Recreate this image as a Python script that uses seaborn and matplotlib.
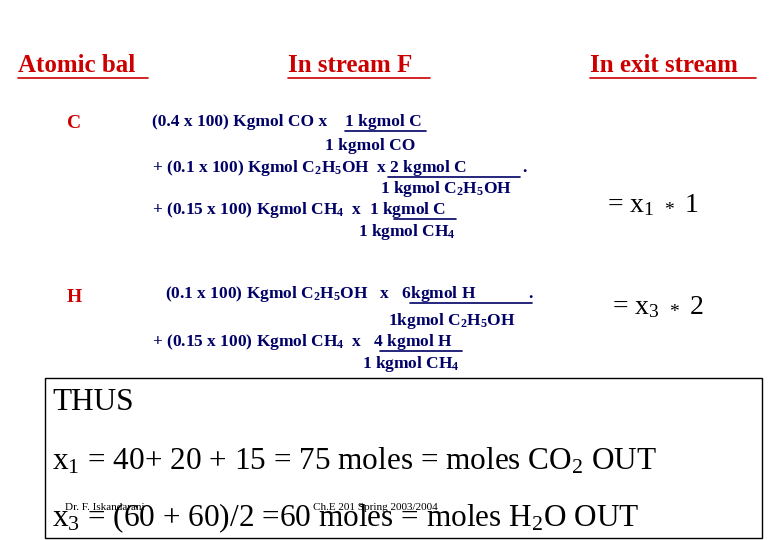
import matplotlib
matplotlib.use("Agg")
import matplotlib.pyplot as plt
import seaborn as sns
from matplotlib.patches import Rectangle

sns.set_theme(style="white")
plt.rcParams['font.family'] = ['Liberation Serif', 'DejaVu Serif']
plt.rcParams['mathtext.fontset'] = 'custom'
plt.rcParams['mathtext.rm'] = 'Liberation Serif'
plt.rcParams['mathtext.it'] = 'Liberation Serif'
plt.rcParams['mathtext.bf'] = 'Liberation Serif:bold'

RED = "#cc0000"
NAVY = "#000066"

headers = ["Atomic bal", "In stream F", "In exit stream"]
header_x = [18, 288, 590]
elements = ["C", "H"]
element_y = [123, 298]

c_lines = [
    ("(0.4 x 100) Kgmol CO x", 152, 122),
    ("1 kgmol C", 345, 122),
    ("1 kgmol CO", 325, 146),
    ("+ (0.1 x 100) Kgmol C$_\\mathbf{2}$H$_\\mathbf{5}$OH  x 2 kgmol C", 152, 168),
    (".", 522, 168),
    ("1 kgmol C$_\\mathbf{2}$H$_\\mathbf{5}$OH", 380, 189),
    ("+ (0.15 x 100) Kgmol CH$_\\mathbf{4}$  x  1 kgmol C", 152, 210),
    ("1 kgmol CH$_\\mathbf{4}$", 358, 232),
]
c_underlines = [(345, 426, 131), (388, 520, 177), (394, 456, 219)]

h_lines = [
    ("(0.1 x 100) Kgmol C$_\\mathbf{2}$H$_\\mathbf{5}$OH   x   6kgmol H", 165, 294),
    (".", 528, 294),
    ("1kgmol C$_\\mathbf{2}$H$_\\mathbf{5}$OH", 388, 321),
    ("+ (0.15 x 100) Kgmol CH$_\\mathbf{4}$  x   4 kgmol H", 152, 342),
    ("1 kgmol CH$_\\mathbf{4}$", 362, 364),
]
h_underlines = [(410, 532, 303), (380, 462, 351)]

results = [("= x$_1$ $_*$ 1", 607, 205), ("= x$_3$ $_*$ 2", 612, 307)]

summary = [
    ("THUS", 52, 403),
    ("x$_1$ = 40+ 20 + 15 = 75 moles = moles CO$_2$ OUT", 52, 461),
    ("x$_3$ = (60 + 60)/2 =60 moles = moles H$_2$O OUT", 52, 518),
]
footer = [("Dr. F. Iskandarani", 65, 508), ("Ch.E 201 Spring 2003/2004", 313, 508)]

fig = plt.figure(figsize=(7.8, 5.4), dpi=100)
ax = fig.add_axes([0, 0, 1, 1])
ax.set_xlim(0, 780)
ax.set_ylim(540, 0)
ax.axis("off")

for h, x in zip(headers, header_x):
    ax.text(x, 65, h, color=RED, fontsize=18, fontweight="bold", va="center")
widths = [130, 142, 166]
for x, w in zip(header_x, widths):
    ax.plot([x, x + w], [78, 78], color=RED, lw=1.2)

for e, y in zip(elements, element_y):
    ax.text(67, y, e, color=RED, fontsize=14, fontweight="bold", va="center")

for txt, x, y in c_lines + h_lines:
    ax.text(x, y, txt, color=NAVY, fontsize=12.5, fontweight="bold", va="center")
for x0, x1, y in c_underlines + h_underlines:
    ax.plot([x0, x1], [y, y], color=NAVY, lw=1.2)

for txt, x, y in results:
    ax.text(x, y, txt, color="black", fontsize=20, va="center")

ax.add_patch(Rectangle((45, 378), 717, 160, fill=False, ec="black", lw=1))
for txt, x, y in footer:
    ax.text(x, y, txt, color="black", fontsize=8, va="center")
for txt, x, y in summary:
    ax.text(x, y, txt, color="black", fontsize=22.5, va="center")

fig.savefig("out.png", dpi=100, facecolor="white")
